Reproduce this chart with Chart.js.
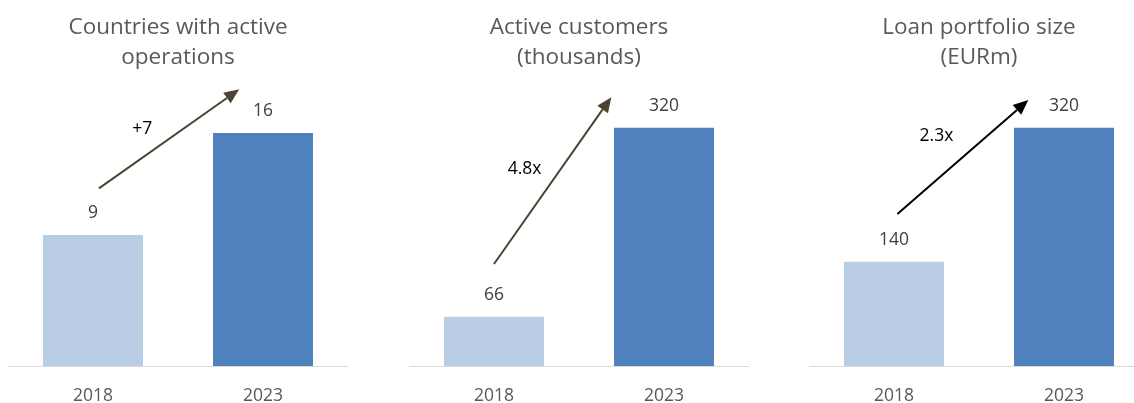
<!DOCTYPE html>
<html>
<head>
<meta charset="utf-8">
<script src="https://cdn.jsdelivr.net/npm/chart.js@4/dist/chart.umd.min.js"></script>
<style>
  html, body { margin: 0; padding: 0; background: #fff; overflow: hidden; }
  body { width: 1134px; height: 403px; position: relative; }
  .panel { position: absolute; top: 0; width: 340px; height: 427px; }
</style>
</head>
<body>
<div class="panel" style="left:8px"><canvas id="c0"></canvas></div>
<div class="panel" style="left:409px"><canvas id="c1"></canvas></div>
<div class="panel" style="left:809px"><canvas id="c2"></canvas></div>
<script>
const years = ['2018', '2023']
const titles = [
  ['Countries with active', 'operations'],
  ['Active customers', '(thousands)'],
  ['Loan portfolio size', '(EURm)']
]
const countries = [9, 16]
const customers = [66, 320]
const loans = [140, 320]
const seriesList = [countries, customers, loans]
const yMax = [19.64, 384, 384]

// growth arrows, in data units: [category index, value]
const growthLabels = ['+7', '4.8x', '2.3x']
const arrowFrom = [[0.035, 12.2], [0, 137], [0.02, 204]]
const arrowTo = [[0.86, 19.0], [0.69, 361], [0.79, 357]]
const labelAt = [[0.29, 16.3], [0.18, 265], [0.25, 309]]
const arrowColors = ['#4a4430', '#4a4430', '#000000']

const barColors = ['#b9cde5', '#4f81bd']
const fontFamily = '"Open Sans", "Noto Sans", sans-serif'

const annotate = {
  id: 'annotate',
  afterDatasetsDraw (chart, args, opts) {
    const ctx = chart.ctx
    const xs = chart.scales.x
    const ys = chart.scales.y
    ctx.save()
    // value labels above bars
    ctx.font = '17.5px ' + fontFamily
    ctx.fillStyle = '#404040'
    ctx.textAlign = 'center'
    ctx.textBaseline = 'middle'
    chart.getDatasetMeta(0).data.forEach((bar, i) => {
      ctx.fillText(String(chart.data.datasets[0].data[i]), bar.x, bar.y - 22)
    })
    // growth arrow
    const k = opts.index
    const x1 = xs.getPixelForValue(arrowFrom[k][0])
    const y1 = ys.getPixelForValue(arrowFrom[k][1])
    const x2 = xs.getPixelForValue(arrowTo[k][0])
    const y2 = ys.getPixelForValue(arrowTo[k][1])
    const ang = Math.atan2(y2 - y1, x2 - x1)
    const headLen = 15
    const headW = 6.5
    const bx = x2 - headLen * Math.cos(ang)
    const by = y2 - headLen * Math.sin(ang)
    ctx.strokeStyle = arrowColors[k]
    ctx.fillStyle = arrowColors[k]
    ctx.lineWidth = 2
    ctx.beginPath()
    ctx.moveTo(x1, y1)
    ctx.lineTo(bx, by)
    ctx.stroke()
    ctx.beginPath()
    ctx.moveTo(x2, y2)
    ctx.lineTo(bx + headW * Math.sin(ang), by - headW * Math.cos(ang))
    ctx.lineTo(bx - headW * Math.sin(ang), by + headW * Math.cos(ang))
    ctx.closePath()
    ctx.fill()
    // growth label
    ctx.fillStyle = '#000'
    ctx.fillText(growthLabels[k], xs.getPixelForValue(labelAt[k][0]), ys.getPixelForValue(labelAt[k][1]))
    ctx.restore()
  }
}

seriesList.forEach((values, k) => {
  new Chart(document.getElementById('c' + k).getContext('2d'), {
    type: 'bar',
    data: {
      labels: years,
      datasets: [{
        data: values,
        backgroundColor: barColors,
        barPercentage: 100 / 170,
        categoryPercentage: 1
      }]
    },
    options: {
      responsive: true,
      maintainAspectRatio: false,
      animation: false,
      layout: { padding: 0 },
      plugins: {
        legend: { display: false },
        tooltip: { enabled: false },
        title: {
          display: true,
          text: titles[k],
          color: '#595959',
          font: { family: fontFamily, size: 22.5, weight: 'normal', lineHeight: '30px' },
          padding: { top: 13, bottom: 7 }
        },
        annotate: { index: k }
      },
      scales: {
        x: {
          grid: { display: false, drawTicks: false },
          border: { display: true, color: '#d9d9d9', width: 1 },
          ticks: {
            color: '#595959',
            padding: 20,
            font: { family: fontFamily, size: 17.5, lineHeight: 1.2 }
          }
        },
        y: {
          display: false,
          min: 0,
          max: yMax[k]
        }
      }
    },
    plugins: [annotate]
  })
})
</script>
</body>
</html>
